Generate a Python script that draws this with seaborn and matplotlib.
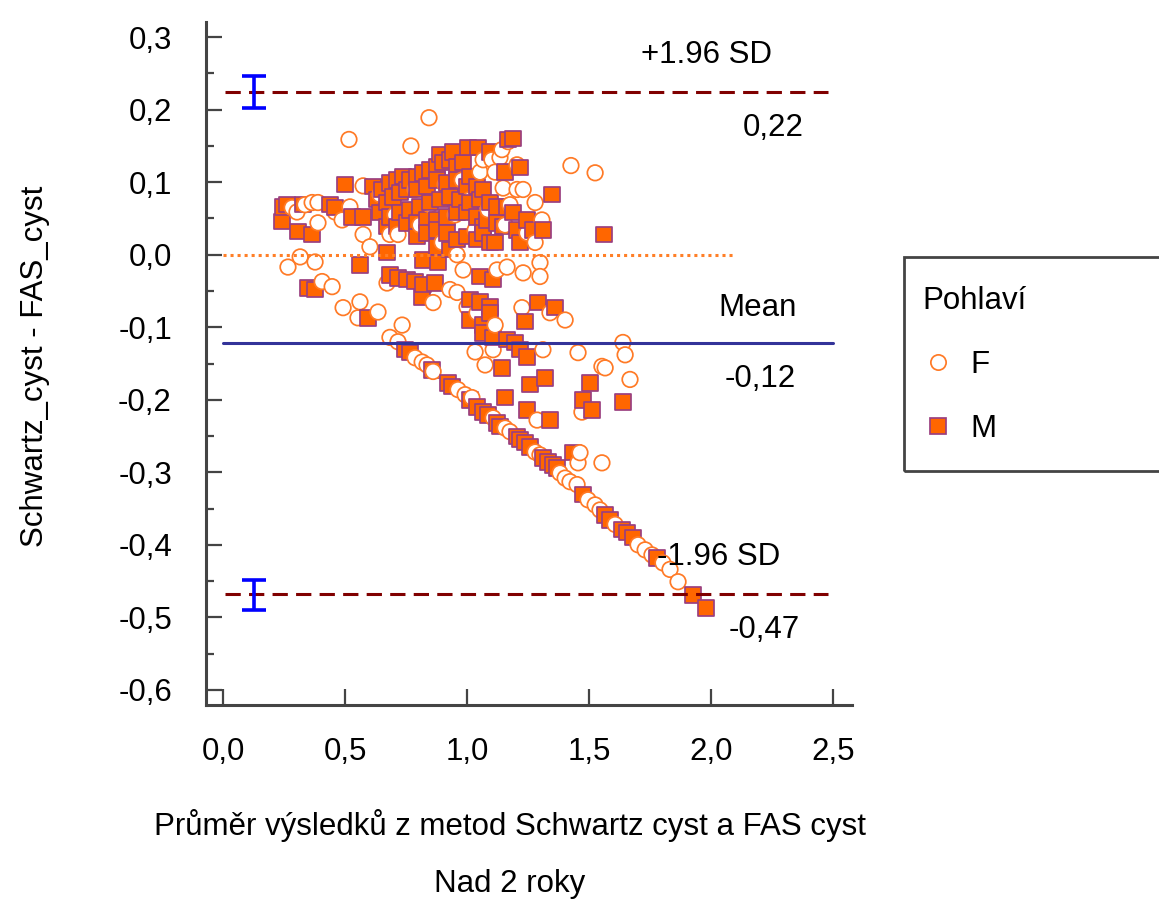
import numpy as np
import pandas as pd
import matplotlib
matplotlib.use("Agg")
import matplotlib.pyplot as plt
import seaborn as sns
from matplotlib.lines import Line2D
from matplotlib.patches import Rectangle
from matplotlib.ticker import MultipleLocator, FuncFormatter

sns.set_theme(style="white")
plt.rcParams["font.family"] = ["Liberation Sans", "DejaVu Sans"]
plt.rcParams["text.color"] = "black"
plt.rcParams["axes.labelcolor"] = "black"
plt.rcParams["xtick.color"] = "black"
plt.rcParams["ytick.color"] = "black"

# (average of both methods, difference) for girls
female_pts = [
    (0.844, 0.189), (0.516, 0.159), (0.770, 0.150), (1.426, 0.123), (1.525, 0.113),
    (1.168, 0.156), (1.143, 0.145), (1.066, 0.131), (1.102, 0.131), (1.135, 0.134),
    (1.053, 0.114), (1.115, 0.114), (1.148, 0.092), (1.205, 0.090), (1.230, 0.090),
    (0.574, 0.095), (0.336, 0.069), (0.365, 0.072), (0.389, 0.072), (0.303, 0.059),
    (0.389, 0.044), (0.520, 0.066), (0.488, 0.048), (0.574, 0.028), (0.602, 0.011),
    (0.684, 0.028), (0.717, 0.028), (0.316, -0.003), (0.266, -0.017), (0.377, -0.010),
    (0.406, -0.037), (0.447, -0.044), (0.492, -0.073), (0.561, -0.065), (0.635, -0.079),
    (0.553, -0.087), (0.734, -0.097), (0.672, -0.039), (0.898, 0.017), (0.959, 0.000),
    (0.984, -0.021), (0.930, -0.048), (0.959, -0.052), (0.861, -0.066), (1.000, -0.072),
    (1.041, -0.080), (1.115, -0.097), (1.279, 0.072), (1.307, 0.048), (1.279, 0.017),
    (1.246, 0.030), (1.299, -0.011), (1.299, -0.030), (1.164, -0.017), (1.123, -0.021),
    (1.230, -0.025), (1.340, -0.080), (1.402, -0.090), (1.225, -0.073), (1.033, -0.134),
    (1.074, -0.152), (1.107, -0.131), (1.311, -0.131), (1.455, -0.135), (1.639, -0.121),
    (1.648, -0.138), (1.553, -0.154), (1.566, -0.156), (1.668, -0.172), (1.471, -0.217),
    (1.287, -0.228), (1.463, -0.273), (1.455, -0.287), (1.553, -0.287),
    (1.012, 0.076), (0.951, 0.055), (1.033, 0.034), (0.848, 0.069), (0.787, 0.090),
    (0.910, 0.097), (1.086, 0.062), (0.980, 0.103), (0.807, 0.041), (0.705, 0.055),
    (0.643, 0.083), (1.156, 0.041), (1.176, 0.069), (1.205, 0.124), (0.283, 0.065),
    (0.459, 0.059),
    (0.684, -0.114), (0.717, -0.120), (0.787, -0.142), (0.816, -0.148), (0.836, -0.152),
    (0.861, -0.161), (0.963, -0.186), (0.992, -0.193), (1.020, -0.197), (1.107, -0.225),
    (1.156, -0.239), (1.176, -0.244), (1.279, -0.272), (1.299, -0.276), (1.381, -0.301),
    (1.402, -0.308), (1.422, -0.313), (1.451, -0.317), (1.496, -0.338), (1.525, -0.345),
    (1.545, -0.352), (1.607, -0.372), (1.701, -0.400), (1.730, -0.407), (1.758, -0.414),
    (1.803, -0.425), (1.832, -0.434), (1.865, -0.451),
]

# (average of both methods, difference) for boys
male_pts = [
    (1.168, 0.159), (1.189, 0.160), (1.004, 0.148), (0.943, 0.142), (0.889, 0.138),
    (1.156, 0.114), (1.217, 0.120), (1.348, 0.083), (0.500, 0.097), (0.246, 0.066),
    (0.242, 0.046), (0.307, 0.032), (0.365, 0.028), (0.328, 0.069), (0.459, 0.065),
    (0.529, 0.052), (0.574, 0.052), (0.672, 0.003), (0.561, -0.014), (0.820, -0.007),
    (0.881, -0.011), (0.684, -0.028), (0.717, -0.032), (0.754, -0.034), (0.787, -0.037),
    (0.820, -0.041), (0.377, -0.048), (0.348, -0.046), (0.816, -0.058), (0.869, -0.039),
    (1.053, -0.030), (1.107, -0.034), (1.115, 0.017), (1.066, 0.039), (1.148, 0.039),
    (1.217, 0.017), (1.311, 0.034), (1.291, -0.066), (1.361, -0.073), (1.238, -0.092),
    (1.012, -0.062), (1.053, -0.065), (1.094, -0.072), (1.012, -0.090), (1.066, -0.097),
    (0.594, -0.087), (1.561, 0.028), (1.094, -0.080), (1.066, -0.108), (1.107, -0.114),
    (1.164, -0.117), (1.197, -0.121), (1.217, -0.131), (1.246, -0.141), (1.143, -0.156),
    (1.258, -0.179), (1.320, -0.170), (1.504, -0.177), (1.156, -0.197), (1.639, -0.203),
    (1.475, -0.200), (1.512, -0.214), (1.246, -0.214), (1.340, -0.228), (1.434, -0.273),
    (0.615, 0.094), (0.652, 0.090), (0.684, 0.099), (0.713, 0.103), (0.738, 0.108),
    (0.766, 0.103), (0.795, 0.108), (0.820, 0.113), (0.848, 0.117), (0.877, 0.121),
    (0.902, 0.127), (0.930, 0.131), (0.959, 0.121), (0.984, 0.127), (1.012, 0.108),
    (0.631, 0.076), (0.672, 0.072), (0.697, 0.080), (0.725, 0.086), (0.754, 0.090),
    (0.795, 0.090), (0.836, 0.094), (0.877, 0.103), (0.918, 0.099), (0.959, 0.103),
    (1.000, 0.094), (1.041, 0.094), (1.066, 0.090), (0.643, 0.058), (0.684, 0.052),
    (0.725, 0.058), (0.766, 0.062), (0.807, 0.066), (0.848, 0.072), (0.889, 0.076),
    (0.930, 0.080), (0.971, 0.076), (1.012, 0.072), (1.053, 0.076), (1.094, 0.072),
    (1.123, 0.066), (0.672, 0.039), (0.713, 0.039), (0.754, 0.044), (0.795, 0.044),
    (0.836, 0.048), (0.877, 0.048), (0.918, 0.052), (0.959, 0.058), (1.000, 0.058),
    (1.041, 0.052), (1.082, 0.048), (1.123, 0.044), (0.795, 0.025), (0.836, 0.030),
    (0.877, 0.034), (0.918, 0.030), (0.959, 0.021), (1.000, 0.025), (1.041, 0.021),
    (0.877, 0.011), (0.930, 0.007), (1.066, 0.030), (1.094, 0.017), (1.164, 0.066),
    (1.189, 0.058), (1.205, 0.034), (1.246, 0.048), (1.270, 0.034), (1.045, 0.148),
    (1.094, 0.142), (0.262, 0.069), (0.439, 0.069),
    (0.746, -0.131), (0.766, -0.135), (0.857, -0.159), (0.922, -0.177), (0.939, -0.182),
    (1.012, -0.200), (1.041, -0.210), (1.066, -0.217), (1.086, -0.221), (1.123, -0.232),
    (1.135, -0.237), (1.205, -0.251), (1.217, -0.255), (1.238, -0.259), (1.258, -0.265),
    (1.311, -0.280), (1.332, -0.286), (1.352, -0.290), (1.369, -0.294), (1.475, -0.331),
    (1.566, -0.359), (1.586, -0.366), (1.635, -0.379), (1.656, -0.383), (1.680, -0.390),
    (1.779, -0.418), (1.926, -0.469), (1.980, -0.487),
]

groups = ["F", "M"]
legend_title = "Pohlaví"

# Bland-Altman statistics
bias = -0.122
loa_upper = 0.224
loa_lower = -0.468
loa_upper_ci = (0.202, 0.246)
loa_lower_ci = (-0.490, -0.448)
ci_x = 0.127

x_ticks = [0.0, 0.5, 1.0, 1.5, 2.0, 2.5]
y_ticks = [-0.6, -0.5, -0.4, -0.3, -0.2, -0.1, 0.0, 0.1, 0.2, 0.3]

x_label = "Průměr výsledků z metod Schwartz cyst a FAS cyst"
subtitle = "Nad 2 roky"
y_label = "Schwartz_cyst - FAS_cyst"

FS = 22.5
W, H = 1159, 901

df = pd.DataFrame(
    [(x, y, "F") for x, y in female_pts] + [(x, y, "M") for x, y in male_pts],
    columns=["mean", "diff", "sex"],
)
df = df.sort_values("mean", kind="stable").reset_index(drop=True)

fig = plt.figure(figsize=(W / 100, H / 100), dpi=100)
ax = fig.add_axes([206 / W, 1 - 705 / H, (852 - 206) / W, (705 - 22) / H])

face = {"F": "white", "M": "#FF6600"}
edge = {"F": "#FF7A26", "M": "#9A3F80"}
sns.scatterplot(
    data=df, x="mean", y="diff", hue="sex", style="sex",
    markers={"F": "o", "M": "s"}, palette=face, s=125, linewidth=1.25,
    legend=False, ax=ax, zorder=3,
)
coll = ax.collections[-1]
coll.set_edgecolors([edge[s] for s in df["sex"]])

# reference lines
ax.plot([0, 2.09], [0, 0], ls=(0, (1, 1.3)), color="#FF7F27", lw=2.2, zorder=4)
ax.plot([0, 2.5], [bias, bias], color="#333399", lw=2.2, zorder=4)
for v in (loa_upper, loa_lower):
    ax.plot([0.008, 2.48], [v, v], ls=(0, (5, 2.7)), color="#800000", lw=2.2, zorder=4)

# confidence intervals of the limits of agreement
for v, (lo, hi) in ((loa_upper, loa_upper_ci), (loa_lower, loa_lower_ci)):
    ax.errorbar([ci_x], [v], yerr=[[v - lo], [hi - v]], fmt="none", ecolor="#0000FF",
                elinewidth=2.6, capsize=8.5, capthick=2.6, zorder=5)

def comma(v):
    return f"{v:.2f}".replace(".", ",")

ax.text(1.98, 0.276, "+1.96 SD", ha="center", va="center", fontsize=FS)
ax.text(2.254, 0.175, comma(loa_upper), ha="center", va="center", fontsize=FS)
ax.text(2.189, -0.073, "Mean", ha="center", va="center", fontsize=FS)
ax.text(2.20, -0.172, comma(bias), ha="center", va="center", fontsize=FS)
ax.text(2.03, -0.417, "-1.96 SD", ha="center", va="center", fontsize=FS)
ax.text(2.22, -0.517, comma(loa_lower), ha="center", va="center", fontsize=FS)

ax.set_xlim(-0.07, 2.578)
ax.set_ylim(-0.621, 0.321)
ax.set_xticks(x_ticks)
ax.set_yticks(y_ticks)
ax.yaxis.set_minor_locator(MultipleLocator(0.05))
fmt = FuncFormatter(lambda v, p: f"{v:.1f}".replace(".", ",").replace("-0,0", "0,0"))
ax.xaxis.set_major_formatter(fmt)
ax.yaxis.set_major_formatter(fmt)
ax.set_xlabel("")
ax.set_ylabel("")

ax.tick_params(axis="both", which="major", direction="in", length=11.5, width=1.6,
               color="#444444", labelsize=FS, labelcolor="black")
ax.tick_params(axis="y", which="minor", direction="in", length=6, width=1.6,
               color="#444444", left=True)
ax.tick_params(axis="y", which="major", pad=24.5, left=True)
ax.tick_params(axis="x", which="major", pad=23, bottom=True)
for side in ("top", "right"):
    ax.spines[side].set_visible(False)
for side in ("left", "bottom"):
    ax.spines[side].set_color("#444444")
    ax.spines[side].set_linewidth(2.2)

fig.text(510 / W, 1 - 826 / H, x_label, ha="center", va="center", fontsize=FS)
fig.text(510 / W, 1 - 884 / H, subtitle, ha="center", va="center", fontsize=FS)
fig.text(35 / W, 1 - 366 / H, y_label, ha="center", va="center", rotation=90, fontsize=FS)

handles = [
    Line2D([], [], ls="none", marker="o", markersize=11, markerfacecolor=face["F"],
           markeredgecolor=edge["F"], markeredgewidth=1.25),
    Line2D([], [], ls="none", marker="s", markersize=11, markerfacecolor=face["M"],
           markeredgecolor=edge["M"], markeredgewidth=1.25),
]
fig.legend(handles, groups, title=legend_title, loc="upper left",
           bbox_to_anchor=(922 / W, 1 - 286 / H), frameon=False, borderpad=0,
           borderaxespad=0, labelspacing=1.09, handlelength=1.0, handletextpad=0.55,
           fontsize=FS, title_fontsize=FS, alignment="left")
fig.add_artist(Rectangle((904 / W, 1 - 471 / H), (1175 - 904) / W, (471 - 257) / H,
                         transform=fig.transFigure, fill=False, edgecolor="#444444",
                         lw=2, clip_on=False))

fig.savefig("out.png", dpi=100)
